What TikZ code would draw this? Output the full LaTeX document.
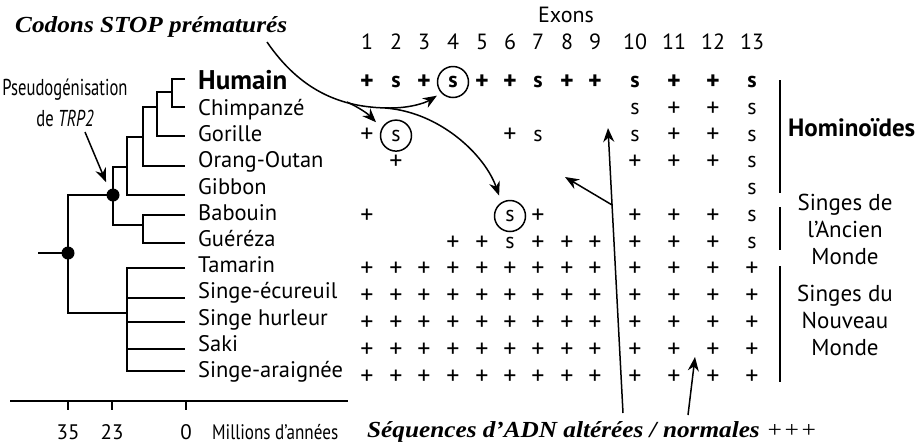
\documentclass[tikz,border=0pt]{standalone}
\usepackage{graphicx}
\usepackage{fontspec}
\setmainfont{PT Sans}
\newfontfamily\tnr{Liberation Serif}
\usetikzlibrary{arrows.meta,calc}
\begin{document}
\begin{tikzpicture}[x=1pt,y=-1pt,
  tree/.style={line width=2pt},
  ann/.style={line width=1.5pt,-{Stealth[length=14pt,width=11pt]}},
  taxon/.style={anchor=base west,inner sep=0pt,font=\fontsize{22.5}{22}\selectfont},
  cell/.style={inner sep=0pt,font=\fontsize{26}{26}\selectfont},
  scell/.style={inner sep=0pt,font=\fontsize{22}{22}\selectfont},
  boldcell/.style={inner sep=0pt,font=\fontsize{26}{26}\selectfont\bfseries},
  bscell/.style={inner sep=0pt,font=\fontsize{22}{22}\selectfont\bfseries},
  circs/.style={draw,circle,line width=1.5pt,minimum size=31pt,inner sep=0pt},
  bar/.style={line width=2pt},
  grp/.style={align=center,font=\fontsize{23}{27}\selectfont,inner sep=0pt},
  hdr/.style={font=\fontsize{22}{22}\selectfont,inner sep=0pt},
  tick/.style={anchor=base,font=\fontsize{21}{21}\selectfont,inner sep=0pt},
  cond/.style={inner sep=0pt,font=\fontsize{23}{23}\selectfont},
  dot/.style={circle,fill,inner sep=0pt,minimum size=13pt},
  bigital/.style={inner sep=0pt,anchor=base west,font=\tnr\bfseries\itshape\fontsize{23}{23}\selectfont}
]
\useasboundingbox (0,0) rectangle (920,445);
\def\colx{{0,367,396,424,453,482,510,538,567,595,635,674,713,752}}

% titles
\node[bigital] (title) at (15,32) {\resizebox{272pt}{\height}{Codons STOP prématurés}};
\node[bigital] (seq) at (367,437) {\resizebox{450pt}{\height}{Séquences d’ADN altérées / normales {\mdseries +++}}};

% exon header
\node[hdr] (exons) at (566,15) {Exons};
\foreach \c in {1,...,13}
  \node[hdr] (h\c) at ({\colx[\c]},42) {\c};

% taxa
\node[taxon,font=\fontsize{27}{27}\selectfont\bfseries] (n0) at (198,89) {Humain};
\node[taxon] (n1) at (198,115) {Chimpanzé};
\node[taxon] (n2) at (198,141) {Gorille};
\node[taxon] (n3) at (198,167) {Orang-Outan};
\node[taxon] (n4) at (198,194) {Gibbon};
\node[taxon] (n5) at (198,220) {Babouin};
\node[taxon] (n6) at (198,246) {Guéréza};
\node[taxon] (n7) at (198,272) {Tamarin};
\node[taxon] (n8) at (198,298) {Singe-écureuil};
\node[taxon] (n9) at (198,325) {Singe hurleur};
\node[taxon] (n10) at (198,351) {Saki};
\node[taxon] (n11) at (198,377) {Singe-araignée};

% table
\foreach \c in {1,3,5,6,8,9,11,12}
  \node[boldcell] (r0c\c) at ({\colx[\c]},82) {+};
\foreach \c in {2,7,10,13}
  \node[bscell] (r0c\c) at ({\colx[\c]},82) {s};
\node[bscell,circs] (hum4) at ({\colx[4]},82) {s};
\foreach \c in {10,13}
  \node[scell] (r1c\c) at ({\colx[\c]},108.8) {s};
\foreach \c in {11,12}
  \node[cell] (r1c\c) at ({\colx[\c]},108.8) {+};
\foreach \c in {1,6,11,12}
  \node[cell] (r2c\c) at ({\colx[\c]},135.6) {+};
\foreach \c in {7,10,13}
  \node[scell] (r2c\c) at ({\colx[\c]},135.6) {s};
\node[scell,circs] (gor2) at ({\colx[2]},135.6) {s};
\foreach \c in {2,10,11,12}
  \node[cell] (r3c\c) at ({\colx[\c]},162.4) {+};
\node[scell] (r3c13) at ({\colx[13]},162.4) {s};
\node[scell] (r4c13) at ({\colx[13]},189.2) {s};
\foreach \c in {1,7,10,11,12}
  \node[cell] (r5c\c) at ({\colx[\c]},216) {+};
\node[scell] (r5c13) at ({\colx[13]},216) {s};
\node[scell,circs] (bab6) at ({\colx[6]},216) {s};
\foreach \c in {4,5,7,8,9,10,11,12}
  \node[cell] (r6c\c) at ({\colx[\c]},242.8) {+};
\foreach \c in {6,13}
  \node[scell] (r6c\c) at ({\colx[\c]},242.8) {s};
\foreach \r in {7,...,11}
  \foreach \c in {1,...,13}
    \node[cell] (r\r c\c) at ({\colx[\c]},{82+26.8*\r}) {+};

% tree
\draw[tree] (185,79) -| (172,107) -- (185,107);
\draw[tree] (172,92) -| (157,136) -- (185,136);
\draw[tree] (157,107) -| (143,166) -- (185,166);
\draw[tree] (143,137) -| (127,195) -- (185,195);
\draw[tree] (127,167) -| (113,225) -- (143,225);
\draw[tree] (185,215) -| (143,243) -- (185,243);
\draw[tree] (113,195) -- (68,195) |- (127,313);
\draw[tree] (185,268) -| (127,371) -- (185,371);
\draw[tree] (127,298) -- (185,298);
\draw[tree] (127,322) -- (185,322);
\draw[tree] (127,349) -- (185,349);
\draw[tree] (38,253) -- (68,253);
\node[dot] (d23) at (113,195) {};
\node[dot] (d35) at (68,253) {};

% pseudogenisation
\node[cond] (pseudo) at (65,90) {\resizebox{125pt}{\height}{Pseudogénisation}};
\node[cond] (trp) at (65,118) {\scalebox{0.72}[1]{de \textit{TRP2}}};
\coordinate (pa) at (85,132);
\draw[ann,shorten >=8pt] (pa) -- (d23.125);

% axis
\draw[tree] (10,401) -- (348,401);
\foreach \x/\l [count=\i] in {68/35,112/23,186/0} {
  \draw[tree] (\x,401) -- (\x,410);
  \node[tick] (t\i) at (\x,439) {\l};
}
\node[inner sep=0pt,anchor=base west,font=\fontsize{21}{21}\selectfont] (my) at (212,439) {\resizebox{126pt}{\height}{Millions d’années}};

% group labels
\draw[bar] (780,80) -- (780,193);
\draw[bar] (780,207) -- (780,250);
\draw[bar] (780,266) -- (780,382);
\node[font=\fontsize{25}{25}\selectfont\bfseries,anchor=west,inner sep=0pt] (hom) at (788,128) {Hominoïdes};
\node[grp] (anc) at (845,229) {Singes de\\l’Ancien\\Monde};
\node[grp] (nou) at (845,320) {Singes du\\Nouveau\\Monde};

% STOP codon arrows
\coordinate (cs) at (267,42);
\coordinate (cm) at (390,108);
\draw[ann,shorten >=5pt] (cs) .. controls (300,90) and (340,108) .. (cm) .. controls (410,108) and (425,103) .. (hum4.223);
\coordinate (cg) at (347,102);
\draw[ann,shorten >=8pt] (cg) .. controls (360,108) and (368,114) .. (gor2.152);
\coordinate (cb) at (385,108);
\draw[ann,shorten >=7pt] (cb) .. controls (440,112) and (485,155) .. (bab6.122);

% altered sequence arrows
\coordinate (la0) at (623,413);
\coordinate (la1) at (608,128);
\draw[ann] (la0) -- (la1);
\coordinate (lb1) at (565,177);
\draw[ann] ($(la0)!0.73!(la1)$) -- (lb1);
\coordinate (sa0) at (688,415);
\coordinate (sa1) at (695,357);
\draw[ann] (sa0) -- (sa1);
\end{tikzpicture}
\end{document}
